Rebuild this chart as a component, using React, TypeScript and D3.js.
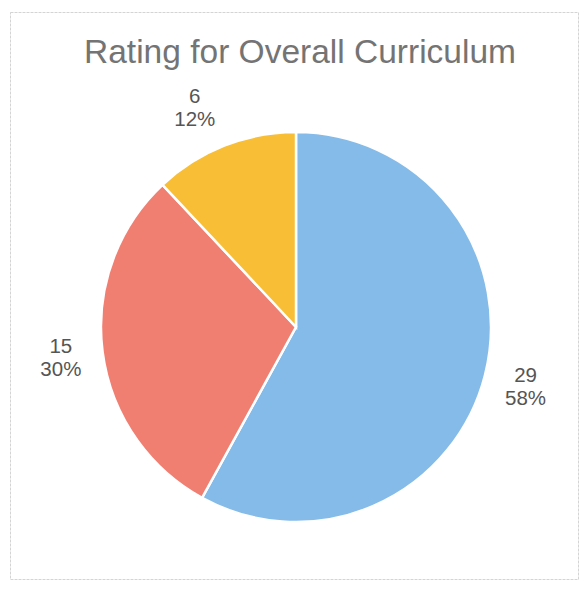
import React from "react";
import * as d3 from "d3";

const categories = ["A", "B", "C"];
const values = [29, 15, 6];
const colors = ["#85bbe9", "#f07f72", "#f8be35"];
const title = "Rating for Overall Curriculum";

export default function App() {
  const W = 587;
  const H = 594;
  const cx = 296;
  const cy = 327;
  const r = 195;
  const labelR = 237;
  const total = d3.sum(values);
  const pie = d3.pie<number>().value((d) => d).sort(null);
  const arcs = pie(values);
  const arc = d3.arc<d3.PieArcDatum<number>>().innerRadius(0).outerRadius(r);
  const labelArc = d3.arc<d3.PieArcDatum<number>>().innerRadius(labelR).outerRadius(labelR);
  const fmt = d3.format(".0%");
  return (
    <svg
      width={W}
      height={H}
      style={{ position: "absolute", left: 0, top: 0, background: "#fff" }}
      fontFamily="'Liberation Sans', Arial, sans-serif"
    >
      <rect x={0} y={0} width={W} height={H} fill="#fff" />
      <rect x={10.5} y={12.5} width={568} height={567} fill="none" stroke="#d4d4d4" strokeWidth={1} strokeDasharray="3 1" />
      <text x={300} y={63} textAnchor="middle" fontSize={33.5} fill="#747474">
        {title}
      </text>
      <g transform={`translate(${cx},${cy})`}>
        {arcs.map((a, i) => (
          <path key={categories[i]} d={arc(a) as string} fill={colors[i]} stroke="#fff" strokeWidth={2.5} />
        ))}
        {arcs.map((a, i) => {
          const [lx, ly] = labelArc.centroid(a);
          const shift = lx < 0 && ly < -150 ? -14 : 0;
          return (
            <text key={"l" + categories[i]} x={lx + shift} y={ly} textAnchor="middle" fontSize={20.5} fill="#555">
              <tspan x={lx + shift} dy={-4}>{values[i]}</tspan>
              <tspan x={lx + shift} dy={23}>{fmt(values[i] / total)}</tspan>
            </text>
          );
        })}
      </g>
    </svg>
  );
}
